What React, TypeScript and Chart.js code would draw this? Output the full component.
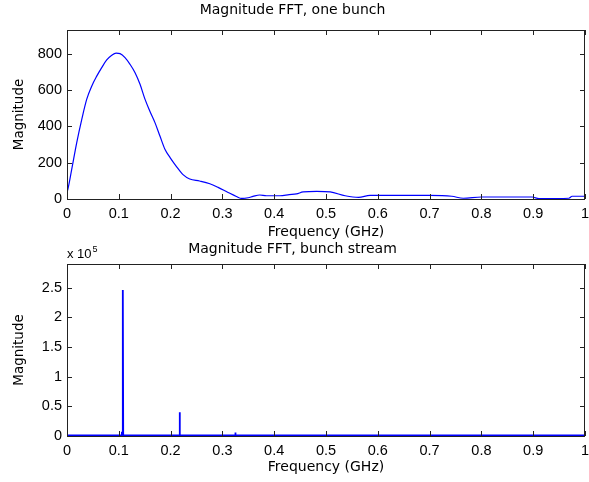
import React, { useEffect, useRef } from "react";
import { Chart, registerables } from "chart.js";

Chart.register(...registerables);

// ---- Data ----
const topTitle = "Magnitude FFT, one bunch";
const bottomTitle = "Magnitude FFT, bunch stream";
const xLabel = "Frequency (GHz)";
const yLabel = "Magnitude";

const bunchFreq = [0, 0.0014, 0.009, 0.0187, 0.0284, 0.038, 0.0477, 0.0574, 0.067, 0.0767, 0.0864, 0.0947, 0.1024, 0.112, 0.1217, 0.1314, 0.141, 0.1507, 0.16, 0.17, 0.1796, 0.1893, 0.199, 0.211, 0.224, 0.237, 0.256, 0.2757, 0.2917, 0.311, 0.327, 0.337, 0.3497, 0.359, 0.372, 0.385, 0.411, 0.429, 0.443, 0.456, 0.482, 0.508, 0.537, 0.563, 0.585, 0.7, 0.743, 0.765, 0.8, 0.898, 0.911, 0.969, 0.975, 1.0];
const bunchMag = [40, 51, 162, 309, 437, 548, 621, 676, 723, 765, 791, 803, 800, 778, 741, 695, 631, 548, 483, 419, 345, 272, 228, 180, 134, 110, 99, 84, 64, 36, 14, 3, 7, 14, 22, 18, 18, 24, 28, 39, 42, 39, 18, 9, 20, 20, 15, 4, 11, 11, 2, 4, 15, 15];

const streamFreq = [0, 0.1055, 0.106, 0.1065, 0.1075, 0.108, 0.1085, 0.217, 0.2175, 0.218, 0.3245, 0.325, 0.3255, 1];
const streamMag = [900, 900, 7000, 900, 900, 246000, 900, 900, 40000, 900, 900, 6000, 900, 900];

const xTicks = [0, 0.1, 0.2, 0.3, 0.4, 0.5, 0.6, 0.7, 0.8, 0.9, 1];
const topYMax = 930;
const topYTicks = [0, 200, 400, 600, 800];
const bottomYMax = 290000;
const bottomYTicks = [0, 50000, 100000, 150000, 200000, 250000];
const bottomExponent = 5;

const TICK_FONT = { family: "Arial, 'Liberation Sans'", size: 14.5 };
const TITLE_FONT = { family: "'DejaVu Sans'", size: 14 };
const XLABEL_FONT = { family: "'DejaVu Sans'", size: 14 };
const YLABEL_FONT = { family: "'DejaVu Sans'", size: 13.5 };

const framePlugin = {
  id: "frame",
  afterDatasetsDraw(chart: any) {
    const { ctx, chartArea: a, scales } = chart;
    const xs = scales.x;
    const ys = scales.y;
    ctx.save();
    ctx.strokeStyle = "#222";
    ctx.lineWidth = 1;
    ctx.beginPath();
    xs.ticks.forEach((t: any) => {
      const px = Math.round(xs.getPixelForValue(t.value)) + 0.5;
      ctx.moveTo(px, a.bottom);
      ctx.lineTo(px, a.bottom - 5);
      ctx.moveTo(px, a.top);
      ctx.lineTo(px, a.top + 5);
    });
    ys.ticks.forEach((t: any) => {
      const py = Math.round(ys.getPixelForValue(t.value)) + 0.5;
      ctx.moveTo(a.left, py);
      ctx.lineTo(a.left + 5, py);
      ctx.moveTo(a.right, py);
      ctx.lineTo(a.right - 5, py);
    });
    ctx.stroke();
    ctx.strokeRect(Math.round(a.left) + 0.5, Math.round(a.top) + 0.5, Math.round(a.right - a.left) - 1, Math.round(a.bottom - a.top));
    ctx.restore();
  },
};

const exponentPlugin = {
  id: "exponent",
  afterDraw(chart: any) {
    const { ctx, chartArea: a } = chart;
    ctx.save();
    ctx.fillStyle = "#000";
    ctx.textBaseline = "alphabetic";
    ctx.textAlign = "left";
    ctx.font = "13px Arial, 'Liberation Sans'";
    const base = "x 10";
    ctx.fillText(base, a.left, a.top - 6);
    const w = ctx.measureText(base).width;
    ctx.font = "9px Arial, 'Liberation Sans'";
    ctx.fillText(String(bottomExponent), a.left + w + 1, a.top - 12);
    ctx.restore();
  },
};

function makeOptions(cfg: {
  yMax: number;
  yTicks: number[];
  yFmt: (v: number) => string;
  titleText: string;
  titlePad: { top: number; bottom: number };
  xAxisHeight: number;
  xTitlePadBottom: number;
}) {
  return {
    animation: false,
    responsive: false,
    maintainAspectRatio: false,
    layout: { padding: { left: 0, right: 4, top: 0, bottom: 0 } },
    plugins: {
      legend: { display: false },
      tooltip: { enabled: false },
      title: {
        display: true,
        text: cfg.titleText,
        color: "#000",
        font: { ...TITLE_FONT, weight: "normal" },
        padding: cfg.titlePad,
      },
    },
    scales: {
      x: {
        type: "linear",
        min: 0,
        max: 1,
        grid: { display: false, drawTicks: false },
        border: { display: false },
        afterBuildTicks: (s: any) => {
          s.ticks = xTicks.map((v) => ({ value: v }));
        },
        ticks: {
          color: "#000",
          font: TICK_FONT,
          padding: 6,
          maxRotation: 0,
          autoSkip: false,
          callback: (v: number) => String(Math.round(v * 10) / 10),
        },
        title: {
          display: true,
          text: xLabel,
          color: "#000",
          font: XLABEL_FONT,
          padding: { top: 0, bottom: cfg.xTitlePadBottom },
        },
        afterFit: (s: any) => {
          s.height = cfg.xAxisHeight;
          s.paddingLeft = 0;
          s.paddingRight = 0;
        },
      },
      y: {
        type: "linear",
        min: 0,
        max: cfg.yMax,
        grid: { display: false, drawTicks: false },
        border: { display: false },
        afterBuildTicks: (s: any) => {
          s.ticks = cfg.yTicks.map((v) => ({ value: v }));
        },
        ticks: {
          color: "#000",
          font: TICK_FONT,
          padding: 5,
          autoSkip: false,
          callback: (v: number) => cfg.yFmt(v),
        },
        title: {
          display: true,
          text: yLabel,
          color: "#000",
          font: YLABEL_FONT,
          padding: { top: 11, bottom: 0 },
        },
        afterFit: (s: any) => {
          s.width = 67;
          s.paddingTop = 0;
          s.paddingBottom = 0;
        },
      },
    },
  } as any;
}

export default function App() {
  const topRef = useRef<HTMLCanvasElement | null>(null);
  const botRef = useRef<HTMLCanvasElement | null>(null);

  useEffect(() => {
    const c1 = new Chart(topRef.current as HTMLCanvasElement, {
      type: "line",
      data: {
        datasets: [
          {
            data: bunchFreq.map((f, i) => ({ x: f, y: bunchMag[i] })),
            borderColor: "#0000ff",
            borderWidth: 1.2,
            pointRadius: 0,
            cubicInterpolationMode: "monotone",
            fill: false,
          },
        ],
      },
      options: makeOptions({
        yMax: topYMax,
        yTicks: topYTicks,
        yFmt: (v) => String(v),
        titleText: topTitle,
        titlePad: { top: 1.6, bottom: 11.6 },
        xAxisHeight: 51,
        xTitlePadBottom: 9.6,
      }),
      plugins: [framePlugin],
    } as any);

    const c2 = new Chart(botRef.current as HTMLCanvasElement, {
      type: "line",
      data: {
        datasets: [
          {
            data: streamFreq.map((f, i) => ({ x: f, y: streamMag[i] })),
            borderColor: "#0000ff",
            borderWidth: 1.8,
            pointRadius: 0,
            tension: 0,
            fill: false,
          },
        ],
      },
      options: makeOptions({
        yMax: bottomYMax,
        yTicks: bottomYTicks,
        yFmt: (v) => String(Math.round((v / Math.pow(10, bottomExponent)) * 10) / 10),
        titleText: bottomTitle,
        titlePad: { top: 4.6, bottom: 6.6 },
        xAxisHeight: 46,
        xTitlePadBottom: 6.6,
      }),
      plugins: [framePlugin, exponentPlugin],
    } as any);

    return () => {
      c1.destroy();
      c2.destroy();
    };
  }, []);

  return (
    <div style={{ position: "fixed", left: 0, top: 0, width: 589, height: 482, background: "#fff" }}>
      <canvas ref={topRef} width={589} height={250} style={{ position: "absolute", left: 0, top: 0, width: 589, height: 250 }} />
      <canvas ref={botRef} width={589} height={246} style={{ position: "absolute", left: 0, top: 236, width: 589, height: 246 }} />
    </div>
  );
}
